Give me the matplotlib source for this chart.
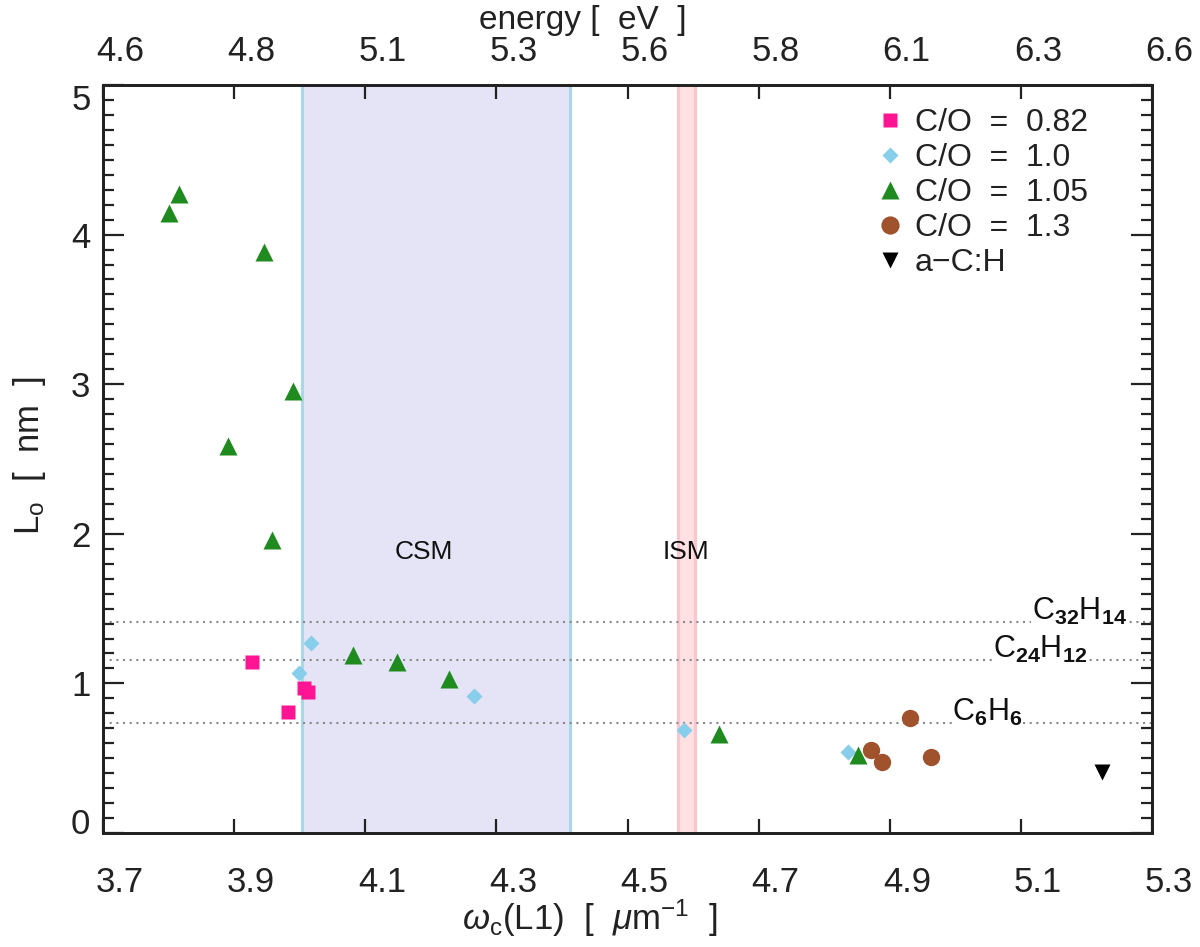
import matplotlib
matplotlib.use("Agg")
import matplotlib.pyplot as plt
import matplotlib.transforms as mtransforms

plt.rcParams["font.family"] = ["Liberation Sans", "DejaVu Sans"]
plt.rcParams["mathtext.fontset"] = "custom"
plt.rcParams["mathtext.rm"] = "Liberation Sans"
plt.rcParams["mathtext.it"] = "Liberation Sans:italic"
plt.rcParams["mathtext.bf"] = "Liberation Sans:bold"

# --- data ------------------------------------------------------------------
co082_w = [3.927, 4.006, 4.013, 3.982]
co082_L = [1.145, 0.967, 0.940, 0.811]

co10_w = [4.018, 3.999, 4.266, 4.586, 4.837]
co10_L = [1.268, 1.072, 0.916, 0.686, 0.543]

co105_w = [3.816, 3.801, 3.945, 3.990, 3.890, 3.958, 4.081, 4.148, 4.228, 4.640, 4.852]
co105_L = [4.271, 4.146, 3.882, 2.957, 2.587, 1.960, 1.190, 1.145, 1.031, 0.660, 0.521]

co13_w = [4.872, 4.888, 4.931, 4.963]
co13_L = [0.555, 0.477, 0.767, 0.510]

ach_w = [5.223]
ach_L = [0.410]

csm_band = (4.003, 4.412)
ism_band = (4.577, 4.603)

pah_names = [r"C$_{\mathbf{32}}$H$_{\mathbf{14}}$", r"C$_{\mathbf{24}}$H$_{\mathbf{12}}$", r"C$_{\mathbf{6}}$H$_{\mathbf{6}}$"]
pah_L = [1.412, 1.156, 0.733]
pah_label_w = [5.262, 5.201, 5.103]

x_ticks = [3.7, 3.9, 4.1, 4.3, 4.5, 4.7, 4.9, 5.1, 5.3]
x_ticklabels = ["3.7", "3.9", "4.1", "4.3", "4.5", "4.7", "4.9", "5.1", "5.3"]
top_ticklabels = ["4.6", "4.8", "5.1", "5.3", "5.6", "5.8", "6.1", "6.3", "6.6"]
y_ticks = [0, 1, 2, 3, 4, 5]

W, H, DPI = 1200, 947, 100
fig = plt.figure(figsize=(W / DPI, H / DPI), dpi=DPI)
ax = fig.add_axes([103 / W, 1 - 833 / H, (1152 - 103) / W, (833 - 85) / H])
ax.set_xlim(3.7, 5.3)
ax.set_ylim(0, 5)

# shaded CSM / ISM regions
ax.axvspan(*csm_band, facecolor="#e4e4f6", edgecolor="none", zorder=0)
for xv in csm_band:
    ax.axvline(xv, color="#a9d8e6", lw=2.2, zorder=1)
ax.axvspan(*ism_band, facecolor="#ffe0e3", edgecolor="none", zorder=0)
for xv in ism_band:
    ax.axvline(xv, color="#ffc4cb", lw=2.2, zorder=1)

ax.text(4.190, 1.88, "CSM", fontsize=19, ha="center", va="center", color="#111111")
ax.text(4.589, 1.88, "ISM", fontsize=19, ha="center", va="center", color="#111111")

# PAH size reference lines
for name, yv, xw in zip(pah_names, pah_L, pah_label_w):
    ax.axhline(yv, color="#8a8a8a", lw=1.5, ls=(0, (1, 2.2)), zorder=1)
    ax.text(xw, yv + 0.015, name, fontsize=22, ha="right", va="baseline", color="#111111",
            zorder=2, bbox=dict(facecolor="white", edgecolor="none", pad=0.5))

h1, = ax.plot(co082_w, co082_L, ls="none", marker="s", ms=9.5, color="#ff1493", mec="none", zorder=4)
h2, = ax.plot(co10_w, co10_L, ls="none", marker="D", ms=7.8, color="#87ceeb", mec="none", zorder=4)
h3, = ax.plot(co105_w, co105_L, ls="none", marker="^", ms=12.5, color="#1f8b1f", mec="none", zorder=4)
h4, = ax.plot(co13_w, co13_L, ls="none", marker="o", ms=12.5, color="#a0522d", mec="none", zorder=4)
h5, = ax.plot(ach_w, ach_L, ls="none", marker="v", ms=11, color="black", mec="none", zorder=4)

leg = ax.legend([h1, h2, h3, h4, h5],
                ["C/O  =  0.82", "C/O  =  1.0", "C/O  =  1.05", "C/O  =  1.3", "a\u2212C:H"],
                loc="upper left", bbox_to_anchor=(878 / W, 1 - 108 / H), bbox_transform=fig.transFigure,
                frameon=False, fontsize=23, handlelength=0.75, handletextpad=0.4,
                labelspacing=0.16, borderpad=0, borderaxespad=0, markerscale=1.05)
for t in leg.get_texts():
    t.set_color("#222222")

# axes styling
for s in ax.spines.values():
    s.set_linewidth(2.0)
    s.set_color("#222222")

ax.set_xticks(x_ticks)
ax.set_xticklabels(x_ticklabels)
ax.set_yticks(y_ticks)
ax.set_yticks([v / 10 for v in range(0, 51) if v % 10], minor=True)
ax.tick_params(axis="x", which="major", direction="in", length=10, width=1.6,
               labelsize=25, pad=24, colors="#222222")
ax.tick_params(axis="y", which="major", direction="in", length=15, width=1.6,
               labelsize=25, pad=9, left=True, right=True, colors="#222222")
ax.tick_params(axis="y", which="minor", direction="in", length=8, width=1.6,
               left=True, right=True, color="#222222")

# labels sit a bit right of their ticks in the original
shift_x = mtransforms.ScaledTranslation(17 / DPI, 0, fig.dpi_scale_trans)
for lab in ax.get_xticklabels():
    lab.set_transform(lab.get_transform() + shift_x)
ylabs = ax.get_yticklabels()
ylabs[0].set_transform(ylabs[0].get_transform() + mtransforms.ScaledTranslation(0, 12 / DPI, fig.dpi_scale_trans))
ylabs[-1].set_transform(ylabs[-1].get_transform() + mtransforms.ScaledTranslation(0, -12 / DPI, fig.dpi_scale_trans))

# top energy axis
ax_top = ax.twiny()
ax_top.set_xlim(ax.get_xlim())
ax_top.set_xticks(x_ticks)
ax_top.set_xticklabels(top_ticklabels)
ax_top.tick_params(axis="x", direction="in", length=10, width=1.6, labelsize=25, pad=12, colors="#222222")
for lab in ax_top.get_xticklabels():
    lab.set_transform(lab.get_transform() + shift_x)
for s in ax_top.spines.values():
    s.set_linewidth(2.0)
    s.set_color("#222222")

fig.text(583 / W, 1 - 20 / H, "energy [  eV  ]", fontsize=24, ha="center", va="center", color="#222222")
fig.text(590 / W, 1 - 918 / H, r"$\omega_{\mathrm{c}}$(L1)  [  $\mu$m$^{-1}$  ]", fontsize=25,
         ha="center", va="center", color="#222222")
fig.text(30 / W, 1 - 455 / H, r"L$_{\mathrm{o}}$  [  nm  ]", fontsize=25, rotation=90,
         ha="center", va="center", color="#222222")

fig.savefig("out.png", dpi=DPI)
